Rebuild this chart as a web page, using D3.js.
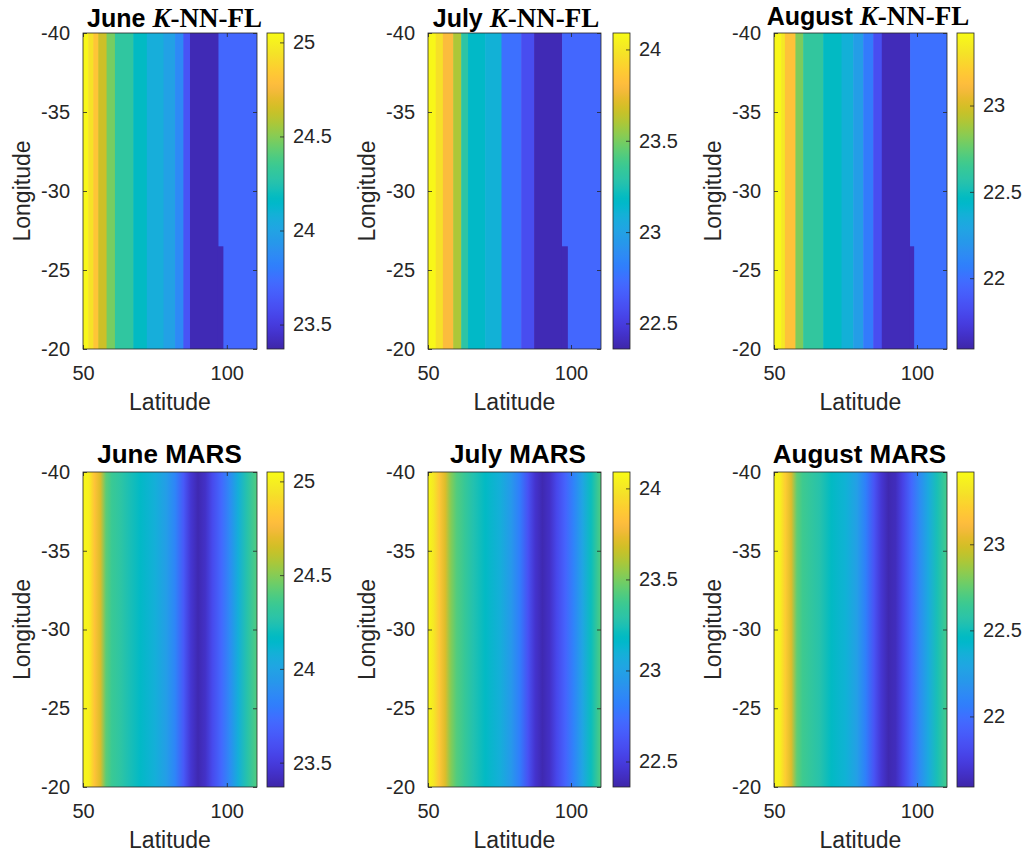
<!DOCTYPE html>
<html><head><meta charset="utf-8">
<script src="https://cdn.jsdelivr.net/npm/d3@7"></script>
<style>body{margin:0;background:#fff}svg{display:block}</style>
</head><body>
<svg id="chart" width="1026" height="856"></svg>
<script>
// ---------------- data ----------------
const months = ["June", "July", "August"];
const latDomain = [50, 110.5];
const lonDomain = [-40, -20];
const latTicks = [50, 100];
const lonTicks = [-40, -35, -30, -25, -20];
const colorRanges = [[23.37, 25.05], [22.36, 24.09], [21.59, 23.42]];
const colorTicks = [[23.5, 24, 24.5, 25], [22.5, 23, 23.5, 24], [22, 22.5, 23]];

// K-NN-FL: piecewise-constant bands along latitude
const knnEdgesJune = [50, 51.8, 53.6, 55.3, 58.2, 61.1, 67.5, 72.2, 78, 82, 84.9, 87.2, 97.1, 110.5];
const knnValuesJune = [25.03, 24.94, 24.82, 24.64, 24.47, 24.30, 24.17, 24.07, 23.99, 23.86, 23.62, 23.40, 23.71];
const knnEdgesJuly = [50, 52.7, 55.2, 58.8, 61.6, 64, 70, 75.7, 82.6, 87.1, 96.9, 110.5];
const knnValuesJuly = [24.07, 23.97, 23.80, 23.60, 23.30, 23.17, 23.10, 22.75, 22.58, 22.39, 22.71];
const knnEdgesAugust = [50, 52.5, 53.8, 57.5, 60.2, 67.2, 73.6, 77.7, 81.2, 84.7, 87.7, 97.6, 110.5];
const knnValuesAugust = [23.40, 23.33, 23.15, 22.80, 22.61, 22.46, 22.37, 22.24, 22.05, 21.83, 21.63, 22.00];
// the low band extends a little further east for longitudes below the split
const knnSplitLon = -26.5;
const knnDarkLowerEdge = [98.6, 98.7, 98.8];

// MARS: smooth profiles along latitude
const marsLat = [50, 52, 54, 56, 58, 60, 63, 66, 70, 75, 79, 82, 85, 87.5, 90, 92.5, 95, 98, 101, 104, 107, 110.5];
const marsJune = [25.03, 25.00, 24.81, 24.68, 24.42, 24.34, 24.29, 24.23, 24.16, 24.08, 23.97, 23.84, 23.64, 23.47, 23.39, 23.44, 23.57, 23.71, 23.87, 24.08, 24.26, 24.40];
const marsJuly = [24.07, 24.00, 23.85, 23.71, 23.52, 23.42, 23.34, 23.26, 23.18, 23.09, 22.95, 22.81, 22.60, 22.45, 22.38, 22.43, 22.55, 22.69, 22.84, 23.02, 23.21, 23.42];
const marsAugust = [23.40, 23.37, 23.20, 23.02, 22.74, 22.66, 22.61, 22.56, 22.46, 22.38, 22.25, 22.08, 21.86, 21.70, 21.61, 21.64, 21.77, 21.96, 22.14, 22.32, 22.52, 22.68];

// parula colormap (64 entries)
const parula = [
[0.2422,0.1504,0.6603],[0.2504,0.1650,0.7076],[0.2578,0.1818,0.7511],[0.2647,0.1978,0.7952],
[0.2706,0.2147,0.8364],[0.2751,0.2342,0.8710],[0.2783,0.2559,0.8991],[0.2803,0.2782,0.9221],
[0.2813,0.3006,0.9414],[0.2810,0.3228,0.9579],[0.2795,0.3447,0.9717],[0.2760,0.3667,0.9829],
[0.2699,0.3892,0.9906],[0.2602,0.4123,0.9952],[0.2440,0.4358,0.9988],[0.2206,0.4603,0.9973],
[0.1963,0.4847,0.9892],[0.1834,0.5074,0.9798],[0.1786,0.5289,0.9682],[0.1764,0.5499,0.9520],
[0.1687,0.5703,0.9359],[0.1540,0.5902,0.9218],[0.1460,0.6091,0.9079],[0.1380,0.6276,0.8973],
[0.1248,0.6459,0.8883],[0.1113,0.6635,0.8763],[0.0952,0.6798,0.8598],[0.0689,0.6948,0.8394],
[0.0297,0.7082,0.8163],[0.0036,0.7203,0.7917],[0.0067,0.7312,0.7660],[0.0433,0.7411,0.7394],
[0.0964,0.7500,0.7120],[0.1408,0.7584,0.6842],[0.1717,0.7670,0.6554],[0.1938,0.7758,0.6251],
[0.2161,0.7843,0.5923],[0.2470,0.7918,0.5567],[0.2906,0.7973,0.5188],[0.3406,0.8008,0.4789],
[0.3909,0.8029,0.4354],[0.4456,0.8024,0.3909],[0.5044,0.7993,0.3480],[0.5616,0.7942,0.3045],
[0.6174,0.7876,0.2612],[0.6720,0.7793,0.2227],[0.7242,0.7698,0.1910],[0.7738,0.7598,0.1646],
[0.8203,0.7498,0.1535],[0.8634,0.7406,0.1596],[0.9035,0.7330,0.1774],[0.9393,0.7288,0.2100],
[0.9728,0.7298,0.2394],[0.9956,0.7434,0.2371],[0.9970,0.7659,0.2199],[0.9952,0.7893,0.2028],
[0.9892,0.8136,0.1885],[0.9786,0.8386,0.1766],[0.9676,0.8639,0.1643],[0.9610,0.8890,0.1537],
[0.9597,0.9135,0.1423],[0.9628,0.9373,0.1265],[0.9691,0.9606,0.1064],[0.9769,0.9839,0.0805]];

const knnEdges = [knnEdgesJune, knnEdgesJuly, knnEdgesAugust];
const knnValues = [knnValuesJune, knnValuesJuly, knnValuesAugust];
const marsValues = [marsJune, marsJuly, marsAugust];

// ---------------- layout ----------------
const cols = [
  {x0: 83, x1: 257, c0: 267, c1: 284},
  {x0: 428, x1: 601, c0: 613, c1: 630},
  {x0: 774, x1: 947, c0: 957, c1: 974}
];
const rows = [
  {y0: 33, y1: 349, titleX: [174.5, 516, 868], titleY: [27, 27, 24.5]},
  {y0: 472, y1: 787, titleX: [169.5, 518, 859.5], titleY: [463, 463, 463]}
];
const FONT = "'Liberation Sans', Arial, Helvetica, sans-serif";
const SERIF = "'Liberation Serif', 'Times New Roman', serif";
const AX = "#262626";
const fmt = d => String(d);

const parulaColors = parula.map(c => d3.rgb(c[0]*255, c[1]*255, c[2]*255).formatHex());
const parulaInterp = d3.piecewise(d3.interpolateRgb, parulaColors);

const svg = d3.select("#chart");
const defs = svg.append("defs");

function drawPanel(r, c) {
  const L = cols[c], R = rows[r];
  const x = d3.scaleLinear().domain(latDomain).range([L.x0, L.x1]);
  const y = d3.scaleLinear().domain(lonDomain).range([R.y0, R.y1]);
  const color = d3.scaleSequential(parulaInterp).domain(colorRanges[c]);
  const g = svg.append("g");
  const clipId = `clip-${r}-${c}`;
  defs.append("clipPath").attr("id", clipId).append("rect")
    .attr("x", L.x0).attr("y", R.y0).attr("width", L.x1 - L.x0).attr("height", R.y1 - R.y0);
  const field = g.append("g").attr("clip-path", `url(#${clipId})`);

  if (r === 0) {
    const edges = knnEdges[c], vals = knnValues[c];
    const cells = vals.map((v, i) => ({lat0: edges[i], lat1: edges[i+1], lon0: lonDomain[0], lon1: lonDomain[1], v}));
    const darkIdx = vals.indexOf(d3.min(vals));
    cells.push({lat0: edges[darkIdx + 1] - 0.2, lat1: knnDarkLowerEdge[c], lon0: knnSplitLon, lon1: lonDomain[1], v: vals[darkIdx]});
    field.selectAll("rect").data(cells).join("rect")
      .attr("x", d => x(d.lat0))
      .attr("width", d => x(d.lat1) - x(d.lat0) + 0.6)
      .attr("y", d => y(d.lon0))
      .attr("height", d => y(d.lon1) - y(d.lon0))
      .attr("fill", d => color(d.v));
  } else {
    const gid = `grad-${r}-${c}`;
    const grad = defs.append("linearGradient").attr("id", gid)
      .attr("gradientUnits", "userSpaceOnUse")
      .attr("x1", x(latDomain[0])).attr("x2", x(latDomain[1])).attr("y1", 0).attr("y2", 0);
    const span = x(latDomain[1]) - x(latDomain[0]);
    grad.selectAll("stop").data(marsLat.map((lat, i) => ({lat, v: marsValues[c][i]}))).join("stop")
      .attr("offset", d => (x(d.lat) - x(latDomain[0])) / span)
      .attr("stop-color", d => color(d.v));
    field.append("rect")
      .attr("x", L.x0).attr("y", R.y0).attr("width", L.x1 - L.x0).attr("height", R.y1 - R.y0)
      .attr("fill", `url(#${gid})`);
  }

  const styleAxis = sel => {
    sel.select(".domain").remove();
    sel.selectAll("line").attr("stroke", AX).attr("stroke-width", 0.8);
    sel.selectAll("text").attr("fill", AX).attr("font-family", FONT).attr("font-size", 20);
  };
  g.append("g").attr("transform", `translate(${L.x0},0)`)
    .call(d3.axisLeft(y).tickValues(lonTicks).tickSize(-4).tickPadding(13).tickFormat(fmt))
    .call(styleAxis);
  g.append("g").attr("transform", `translate(${L.x1},0)`)
    .call(d3.axisRight(y).tickValues(lonTicks).tickSize(-4).tickFormat(""))
    .call(styleAxis);
  g.append("g").attr("transform", `translate(0,${R.y1})`)
    .call(d3.axisBottom(x).tickValues(latTicks).tickSize(-4).tickPadding(17).tickFormat(fmt))
    .call(styleAxis);
  g.append("g").attr("transform", `translate(0,${R.y0})`)
    .call(d3.axisTop(x).tickValues(latTicks).tickSize(-4).tickFormat(""))
    .call(styleAxis);
  g.append("rect").attr("x", L.x0).attr("y", R.y0).attr("width", L.x1 - L.x0).attr("height", R.y1 - R.y0)
    .attr("fill", "none").attr("stroke", AX).attr("stroke-width", 0.8);

  g.append("text").attr("x", (L.x0 + L.x1) / 2).attr("y", R.y1 + 61)
    .attr("text-anchor", "middle").attr("font-family", FONT).attr("font-size", 23).attr("fill", AX)
    .text("Latitude");
  g.append("text").attr("transform", `translate(${L.x0 - 53.5},${(R.y0 + R.y1) / 2}) rotate(-90)`)
    .attr("text-anchor", "middle").attr("font-family", FONT).attr("font-size", 23).attr("fill", AX)
    .text("Longitude");

  const t = g.append("text").attr("x", R.titleX[c]).attr("y", R.titleY[c])
    .attr("text-anchor", "middle").attr("fill", "#000");
  if (r === 0) {
    t.append("tspan").attr("font-family", FONT).attr("font-weight", "bold").attr("font-size", 25).text(months[c] + " ");
    t.append("tspan").attr("font-family", SERIF).attr("font-weight", "bold").attr("font-style", "italic").attr("font-size", 27).text("K");
    t.append("tspan").attr("font-family", SERIF).attr("font-weight", "bold").attr("font-size", 27).text("-NN-FL");
  } else {
    t.attr("font-family", FONT).attr("font-weight", "bold").attr("font-size", 26).text(months[c] + " MARS");
  }

  const cy = d3.scaleLinear().domain(colorRanges[c]).range([R.y1, R.y0]);
  const cgid = `cb-${r}-${c}`;
  const cg = defs.append("linearGradient").attr("id", cgid).attr("x1", 0).attr("x2", 0).attr("y1", 1).attr("y2", 0);
  cg.selectAll("stop").data(parulaColors).join("stop")
    .attr("offset", (d, i) => i / (parulaColors.length - 1))
    .attr("stop-color", d => d);
  g.append("rect").attr("x", L.c0).attr("y", R.y0).attr("width", L.c1 - L.c0).attr("height", R.y1 - R.y0)
    .attr("fill", `url(#${cgid})`).attr("stroke", AX).attr("stroke-width", 0.8);
  g.append("g").attr("transform", `translate(${L.c1},0)`)
    .call(d3.axisRight(cy).tickValues(colorTicks[c]).tickSize(-4).tickPadding(9).tickFormat(fmt))
    .call(styleAxis);
}

for (let r = 0; r < 2; r++) for (let c = 0; c < 3; c++) drawPanel(r, c);
</script>
</body></html>
